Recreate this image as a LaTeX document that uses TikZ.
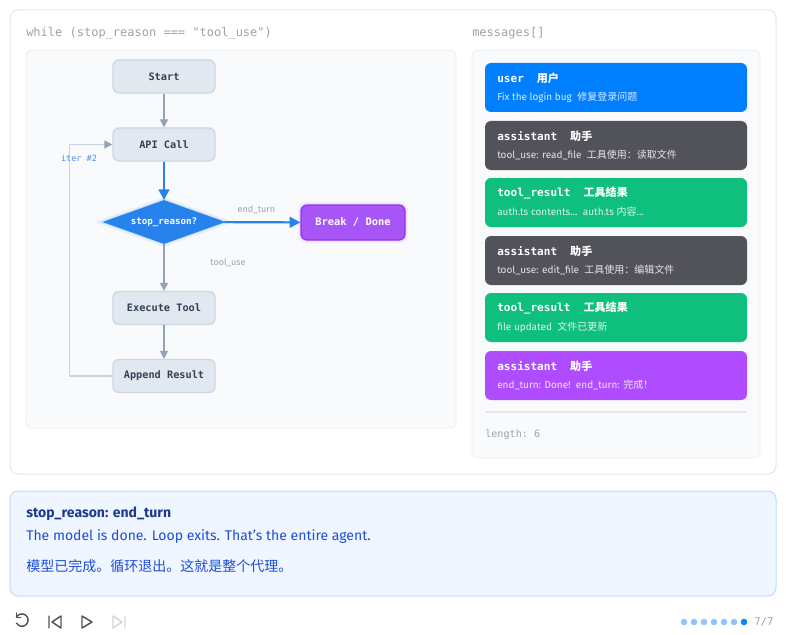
\documentclass[tikz,border=0pt]{standalone}
\usepackage{fontspec}
\setmainfont{Fira Sans}
\setmonofont{DejaVu Sans Mono}
\newfontfamily\cjk{Noto Sans CJK SC}
\usepackage{xcolor}
\usetikzlibrary{shapes.geometric,arrows.meta}

\definecolor{cardline}{HTML}{E5E7EB}
\definecolor{panelbg}{HTML}{F9FAFB}
\definecolor{stepfill}{HTML}{E2E8F0}
\definecolor{stepline}{HTML}{CBD5E1}
\definecolor{steptext}{HTML}{334155}
\definecolor{flowgray}{HTML}{94A3B8}
\definecolor{flowblue}{HTML}{2882EC}
\definecolor{donepurple}{HTML}{A855F7}
\definecolor{doneline}{HTML}{9333EA}
\definecolor{userblue}{HTML}{0080FF}
\definecolor{asstgray}{HTML}{52525B}
\definecolor{resultgreen}{HTML}{0EBF7E}
\definecolor{endpurple}{HTML}{B04CFF}
\definecolor{labelgray}{HTML}{9CA3AF}
\definecolor{itercolor}{HTML}{4A90E2}
\definecolor{notebg}{HTML}{EFF6FF}
\definecolor{noteline}{HTML}{BFDBFE}
\definecolor{notetitle}{HTML}{1E3A8A}
\definecolor{notetext}{HTML}{1D4ED8}
\definecolor{icongray}{HTML}{52525B}
\definecolor{iconoff}{HTML}{D1D5DB}
\definecolor{dotlight}{HTML}{93C5FD}
\definecolor{dotblue}{HTML}{0A84FF}

\begin{document}
\begin{tikzpicture}[x=0.75pt,y=0.75pt,yscale=-1,xscale=1,
  stepbox/.style={draw=stepline,fill=stepfill,rounded corners=4.5pt,line width=0.9pt,minimum width=76.5pt,minimum height=24.75pt,inner sep=0pt,text=steptext,font=\fontsize{7.7}{9}\ttfamily\bfseries},
  decide/.style={diamond,fill=flowblue,draw=flowblue,aspect=2.8,inner sep=0pt,minimum width=91pt,minimum height=32.5pt,text=white,font=\fontsize{6.9}{8}\ttfamily\bfseries,
    preaction={draw=flowblue,line width=5pt,draw opacity=0.06},preaction={draw=flowblue,line width=2.5pt,draw opacity=0.12}},
  donebox/.style={fill=donepurple,draw=doneline,line width=0.9pt,rounded corners=4.5pt,minimum width=78pt,minimum height=26.25pt,inner sep=0pt,text=white,font=\fontsize{7.8}{9}\ttfamily\bfseries,
    preaction={draw=donepurple,line width=5pt,draw opacity=0.06},preaction={draw=donepurple,line width=2.5pt,draw opacity=0.12}},
  grayflow/.style={draw=flowgray,line width=0.9pt,-{Triangle[length=6pt,width=6pt]}},
  blueflow/.style={draw=flowblue,line width=1.6pt,-{Triangle[length=8pt,width=8pt]}},
  loopflow/.style={draw=stepline,line width=1.1pt,-{Triangle[length=6pt,width=6pt,color=flowgray]}},
  flowlabel/.style={inner sep=0pt,text=labelgray,font=\fontsize{6.75}{8}\selectfont},
  msgcard/.style={rounded corners=4.5pt,minimum width=196.5pt,minimum height=36.75pt,inner sep=0pt},
  msgtitle/.style={anchor=west,inner sep=0pt,text=white,font=\fontsize{8.3}{10}\ttfamily\bfseries},
  msgsub/.style={anchor=west,inner sep=0pt,text=white,text opacity=0.85,font=\fontsize{7.5}{9}\selectfont},
  codelabel/.style={anchor=west,inner sep=0pt,text=labelgray,font=\fontsize{9}{11}\ttfamily}]

\useasboundingbox (0,0) rectangle (786,635);

%Shape: Rectangle [outer card]
\draw [draw=cardline,fill=white,line width=0.75pt,rounded corners=6pt] (10,10) rectangle (776,474) ;
%Shape: Rectangle [loop panel]
\draw [draw=cardline!70,fill=panelbg,line width=0.6pt,rounded corners=4.5pt] (26,50) rectangle (456,428) ;
%Shape: Rectangle [messages panel]
\draw [draw=cardline!70,fill=panelbg,line width=0.6pt,rounded corners=4.5pt] (472,50) rectangle (760,458) ;

% Text Node
\node [codelabel] (whilelabel) at (26,33) {while (stop\_reason === "tool\_use")};
% Text Node
\node [codelabel] (msglabel) at (472,33) {messages[]};

%Flow nodes
\node [stepbox] (start) at (164,76.5) {Start};
\node [stepbox] (api) at (164,144.5) {API Call};
\node [decide] (reason) at (164,222) {stop\_reason?};
\node [donebox] (done) at (353,222.5) {Break / Done};
\node [stepbox] (exec) at (164,308) {Execute Tool};
\node [stepbox] (append) at (164,376) {Append Result};

%Straight Lines
\draw [grayflow] (start) -- (api) ;
\draw [blueflow] (api) -- (reason) ;
\draw [blueflow] (reason) -- node [flowlabel,pos=0.42,above=5.5pt] {end\_turn} (done) ;
\draw [grayflow] (reason) -- node [flowlabel,pos=0.4,xshift=48pt] {tool\_use} (exec) ;
\draw [grayflow] (exec) -- (append) ;
\draw [loopflow] (append.west) -- ++(-43,0) |- (api.west) ;
% Text Node
\node [inner sep=0pt,text=itercolor,font=\fontsize{6.4}{8}\ttfamily] (iterlabel) at (79,158) {iter \#2};

%Messages
\node [msgcard,fill=userblue] (msguser) at (616,87.5) {};
\node [msgtitle] (tuser) at (497,78) {user\hspace{9.75pt}{\cjk\bfseries 用户}};
\node [msgsub] (suser) at (497,97) {Fix the login bug\hspace{4pt}{\cjk 修复登录问题}};

\node [msgcard,fill=asstgray] (msgasst) at (616,145.5) {};
\node [msgtitle] (tasst) at (497,136) {assistant\hspace{9.75pt}{\cjk\bfseries 助手}};
\node [msgsub] (sasst) at (497,154.5) {tool\_use: read\_file\hspace{4pt}{\cjk 工具使用：读取文件}};

\node [msgcard,fill=resultgreen] (msgresult) at (616,202.5) {};
\node [msgtitle] (tresult) at (497,193) {tool\_result\hspace{9.75pt}{\cjk\bfseries 工具结果}};
\node [msgsub] (sresult) at (497,212) {auth.ts contents...\hspace{4pt}auth.ts {\cjk 内容}...};

\node [msgcard,fill=asstgray] (msgedit) at (616,260.5) {};
\node [msgtitle] (tedit) at (497,251) {assistant\hspace{9.75pt}{\cjk\bfseries 助手}};
\node [msgsub] (sedit) at (497,269.5) {tool\_use: edit\_file\hspace{4pt}{\cjk 工具使用：编辑文件}};

\node [msgcard,fill=resultgreen] (msgupdate) at (616,317.5) {};
\node [msgtitle] (tupdate) at (497,308) {tool\_result\hspace{9.75pt}{\cjk\bfseries 工具结果}};
\node [msgsub] (supdate) at (497,327) {file updated\hspace{4pt}{\cjk 文件已更新}};

\node [msgcard,fill=endpurple] (msgend) at (616,375.5) {};
\node [msgtitle] (tend) at (497,366) {assistant\hspace{9.75pt}{\cjk\bfseries 助手}};
\node [msgsub] (send) at (497,384.5) {end\_turn: Done!\hspace{4pt}end\_turn: {\cjk 完成！}};

%Straight Lines [separator]
\draw [draw=cardline,line width=0.9pt] (485,412) -- (747,412) ;
% Text Node
\node [codelabel,font=\fontsize{7.6}{9}\ttfamily] (lenlabel) at (485,435) {length: 6};

%Shape: Rectangle [note]
\draw [draw=noteline,fill=notebg,line width=0.75pt,rounded corners=6pt] (10,491) rectangle (776,596) ;
% Text Node
\node [anchor=west,inner sep=0pt,text=notetitle,font=\fontsize{10.5}{12}\bfseries] (notehead) at (26,514) {stop\_reason: end\_turn};
% Text Node
\node [anchor=west,inner sep=0pt,text=notetext,font=\fontsize{10.5}{12}\selectfont] (noteen) at (26,537) {The model is done. Loop exits. That's the entire agent.};
% Text Node
\node [anchor=west,inner sep=0pt,text=notetext,font=\fontsize{10.5}{12}\cjk] (notezh) at (26,566) {模型已完成。循环退出。这就是整个代理。};

%Controls
\draw [draw=icongray,line width=1.1pt,line cap=round,line join=round] (16.5,617) arc [start angle=-150,end angle=150,radius=6.2] ;
\draw [draw=icongray,line width=1.1pt,line cap=round,line join=round] (16.5,613) -- (16.5,617.3) -- (20.8,617.3) ;
\draw [draw=icongray,line width=1.1pt,line cap=round,line join=round] (49,616) -- (49,628) (61,616) -- (52,622) -- (61,628) -- cycle ;
\draw [draw=icongray,line width=1.1pt,line cap=round,line join=round] (82,616) -- (92,622) -- (82,628) -- cycle ;
\draw [draw=iconoff,line width=1.1pt,line cap=round,line join=round] (113,616) -- (122,622) -- (113,628) -- cycle (125,616) -- (125,628) ;

%Progress dots
\foreach \px in {684,694,...,734}
  \fill [dotlight] (\px,622) circle (3.3) ;
\fill [dotblue] (744,622) circle (3.3) ;
% Text Node
\node [anchor=west,inner sep=0pt,text=labelgray,font=\fontsize{8}{10}\ttfamily] (pagelabel) at (754,622) {7/7};

\end{tikzpicture}
\end{document}
